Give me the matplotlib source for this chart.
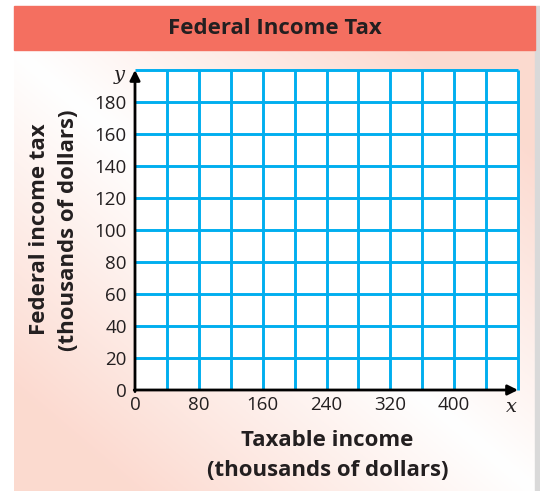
import numpy as np
import matplotlib
matplotlib.use('Agg')
import matplotlib.pyplot as plt
from matplotlib.patches import Rectangle

plt.rcParams['font.family'] = ['Open Sans', 'DejaVu Sans']

TITLE   = "Federal Income Tax"
X_LABEL = ["Taxable income", "(thousands of dollars)"]
Y_LABEL = ["Federal income tax", "(thousands of dollars)"]
X_TICKS = [0, 80, 160, 240, 320, 400]
Y_TICKS = [0, 20, 40, 60, 80, 100, 120, 140, 160, 180]
X_GRID  = [0, 40, 80, 120, 160, 200, 240, 280, 320, 360, 400, 440, 480]
Y_GRID  = [0, 20, 40, 60, 80, 100, 120, 140, 160, 180, 200]

W, H = 540, 491
GRID_C = "#00AEEF"
BANNER_C = "#F46F60"
TEXT_C = "#231f20"

fig = plt.figure(figsize=(W / 100, H / 100), dpi=100)

def fx(px):
    return px / W

def fy(py):
    return 1 - py / H

# ── background panel with soft pink gradient ─────────────────
bg = fig.add_axes([fx(14), 0, fx(535 - 14), fy(50)])
u, v = np.meshgrid(np.linspace(0, 1, 200), np.linspace(0, 1, 200))
t = np.clip(np.abs(u - v) * 1.3, 0, 1)
white = np.array([1.0, 1.0, 1.0])
pink = np.array([0.988, 0.855, 0.815])
img = white[None, None, :] * (1 - t[..., None]) + pink[None, None, :] * t[..., None]
bg.imshow(img, aspect='auto', extent=[0, 1, 0, 1], origin='upper')
bg.set_axis_off()

# shadow on the right
fig.patches.append(Rectangle((fx(535), 0), fx(5), fy(6), transform=fig.transFigure,
                             color="#d9d9d9", zorder=0))
# banner
fig.patches.append(Rectangle((fx(14), fy(50)), fx(535 - 14), fy(6) - fy(50),
                             transform=fig.transFigure, color=BANNER_C, zorder=1))
fig.text(fx(275), fy(28), TITLE, ha='center', va='center', fontsize=16,
         fontweight='bold', color=TEXT_C)

# ── grid ─────────────────────────────────────────────────────
ax = fig.add_axes([fx(135), fy(390), fx(518 - 135), fy(70) - fy(390)])
ax.set_facecolor('white')
ax.set_xlim(X_GRID[0], X_GRID[-1])
ax.set_ylim(Y_GRID[0], Y_GRID[-1])
ax.vlines(X_GRID[1:], Y_GRID[0], Y_GRID[-1], color=GRID_C, lw=2.1, clip_on=False)
ax.hlines(Y_GRID[1:], X_GRID[0], X_GRID[-1], color=GRID_C, lw=2.1, clip_on=False)
for s in ax.spines.values():
    s.set_visible(False)

ax.set_xticks(X_TICKS)
ax.set_xticklabels([str(v) for v in X_TICKS])
ax.set_yticks(Y_TICKS)
ax.set_yticklabels([str(v) for v in Y_TICKS])
ax.tick_params(length=0, labelsize=13.5, colors=TEXT_C)
ax.tick_params(axis='x', pad=4)
ax.tick_params(axis='y', pad=6)

# axes arrows
arrow = dict(arrowstyle='-|>', color='black', lw=2, mutation_scale=15,
             shrinkA=0, shrinkB=0)
ax.annotate('', xy=(X_GRID[-1], 0), xytext=(-1, 0), arrowprops=arrow,
            annotation_clip=False)
ax.annotate('', xy=(0, Y_GRID[-1]), xytext=(0, -1), arrowprops=arrow,
            annotation_clip=False)

fig.text(fx(119), fy(75), "y", fontsize=14, style='italic', family='DejaVu Serif',
         ha='center', va='center', color=TEXT_C)
fig.text(fx(511), fy(407), "x", fontsize=14, style='italic', family='DejaVu Serif',
         ha='center', va='center', color=TEXT_C)

# axis titles
fig.text(fx(327), fy(441), X_LABEL[0], ha='center', va='center', fontsize=16,
         fontweight='bold', color=TEXT_C)
fig.text(fx(328), fy(470), X_LABEL[1], ha='center', va='center', fontsize=16,
         fontweight='bold', color=TEXT_C)
fig.text(fx(40), fy(229), Y_LABEL[0], ha='center', va='center', fontsize=16,
         fontweight='bold', rotation=90, color=TEXT_C)
fig.text(fx(69), fy(230), Y_LABEL[1], ha='center', va='center', fontsize=16,
         fontweight='bold', rotation=90, color=TEXT_C)

fig.savefig("out.png", dpi=100)
